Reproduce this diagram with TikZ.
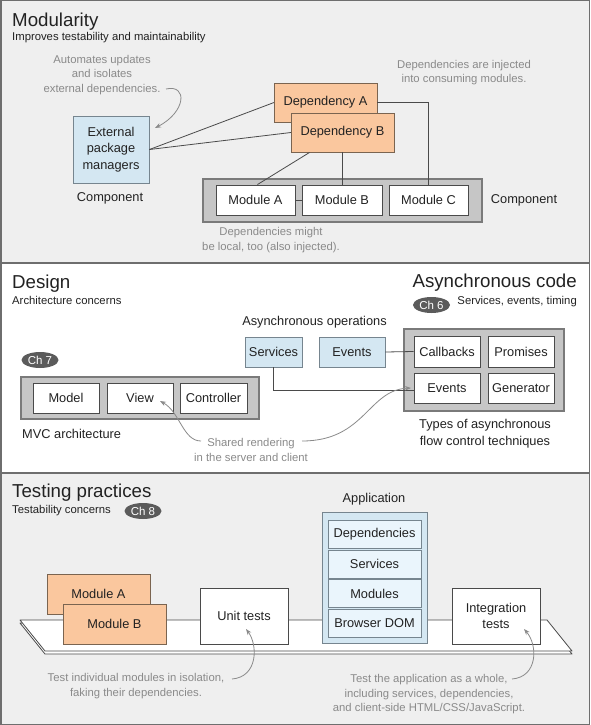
\documentclass[tikz,border=0pt]{standalone}
\usepackage{fontspec}
\setmainfont{Liberation Sans}
\usetikzlibrary{arrows.meta,shapes.geometric,calc}
\definecolor{panelgray}{HTML}{EFEFEF}
\definecolor{framegray}{HTML}{6E6E6E}
\definecolor{orangefill}{HTML}{FAC79E}
\definecolor{orangeline}{HTML}{7A6450}
\definecolor{bluefill}{HTML}{D4E7F2}
\definecolor{blueline}{HTML}{76858F}
\definecolor{paleblue}{HTML}{EAF5FC}
\definecolor{contfill}{HTML}{C6C6C6}
\definecolor{contline}{HTML}{7A7A7A}
\definecolor{boxline}{HTML}{4A4A4A}
\definecolor{anngray}{HTML}{8A8A8A}
\definecolor{chipgray}{HTML}{5B5B5B}
\definecolor{txt}{HTML}{222222}
\begin{document}
\begin{tikzpicture}[x=1pt,y=-1pt,
  basefont/.style={font=\fontsize{12.8}{16.5}\selectfont},
  wbox/.style={basefont, draw=boxline, fill=white, line width=0.9pt, inner sep=0pt, text=txt, align=center},
  obox/.style={wbox, fill=orangefill, draw=orangeline},
  bbox/.style={wbox, fill=bluefill, draw=blueline},
  pbox/.style={wbox, fill=paleblue, draw=blueline},
  cont/.style={draw=contline, fill=contfill, line width=1.1pt, inner sep=0pt},
  lbl/.style={basefont, text=txt, inner sep=0pt, align=center},
  ttl/.style={font=\fontsize{18.7}{22}\selectfont, text=txt, inner sep=0pt},
  sub/.style={font=\fontsize{11.3}{14}\selectfont, text=txt, inner sep=0pt},
  ann/.style={font=\fontsize{11.3}{14.5}\selectfont, text=anngray, inner sep=0pt, align=center},
  chip/.style={ellipse, fill=chipgray, text=white, font=\fontsize{11.5}{13}\selectfont, minimum width=37pt, minimum height=16pt, inner sep=0pt},
  conn/.style={draw=boxline, line width=0.8pt},
  annarrow/.style={draw=anngray, line width=0.8pt, -{Stealth[length=6pt,width=4.5pt]}},
  platform/.style={draw=boxline, fill=white, line width=0.8pt, line join=round}
]
\useasboundingbox (0,0) rectangle (590,725);
% panels
\fill[panelgray] (0,0) rectangle (590,263);
\fill[white] (0,263) rectangle (590,473);
\fill[panelgray] (0,473) rectangle (590,725);
\draw[framegray, line width=1.5pt] (0.75,0.75) rectangle (589.25,724.25);
\draw[framegray, line width=2pt] (0,263) -- (590,263);
\draw[framegray, line width=2pt] (0,473) -- (590,473);

% ===== Panel 1: Modularity =====
\node[ttl, anchor=base west] (t1) at (12,27) {Modularity};
\node[sub, anchor=base west] (s1) at (12,41) {Improves testability and maintainability};
\node[ann] (a1) at (102,75) {Automates updates\\and isolates\\external dependencies.};
\node[bbox, minimum width=76pt, minimum height=67pt] (ext) at (111,149.5) {External\\package\\managers};
\node[lbl] (c1) at (110,198) {Component};
\node[ann] (a2) at (464,72.5) {Dependencies are injected\\into consuming modules.};
\node[cont, minimum width=279pt, minimum height=43pt] (compbox) at (342.5,200.5) {};
\node[wbox, minimum width=79pt, minimum height=30pt] (modA) at (255.5,200) {Module A};
\node[wbox, minimum width=80pt, minimum height=30pt] (modB) at (342,200) {Module B};
\node[wbox, minimum width=79pt, minimum height=30pt] (modC) at (428.5,200) {Module C};
\node[lbl] (c2) at (524,200) {Component};
\node[ann] (a3) at (271,240) {Dependencies might\\be local, too (also injected).};
% connectors (behind dependency boxes)
\draw[conn] (ext.east) -- (274,102.5) coordinate (depAw);
\draw[conn] (ext.east) -- (291,132.5) coordinate (depBw);
\node[obox, minimum width=103pt, minimum height=39pt] (depA) at (325.5,102.5) {Dependency A};
\node[obox, minimum width=103pt, minimum height=39pt] (depB) at (342.5,132.5) {Dependency B};
\draw[conn] (depA.east) -| (modC.north);
\draw[conn] (depB.south) -- (depB.south |- modB.north);
\draw[conn] ([xshift=19pt]depB.south west) -- ([xshift=-38pt]modA.north east);
\draw[conn] (modA.east) -- (modB.west);
\coordinate (a1s) at (166,89);
\coordinate (a1e) at (155,128);
\draw[annarrow] (a1s) .. controls (188,84) and (186,112) .. (a1e);

% ===== Panel 2: Design / Asynchronous code =====
\node[ttl, anchor=base west] (t2) at (12,288) {Design};
\node[sub, anchor=base west] (s2) at (12,304) {Architecture concerns};
\node[ttl, anchor=base east] (t3) at (577,287) {Asynchronous code};
\node[sub, anchor=base east] (s3) at (577,304) {Services, events, timing};
\node[chip] (ch6) at (431.5,305) {Ch 6};
\node[lbl] (aop) at (314.5,322) {Asynchronous operations};
\node[bbox, minimum width=57pt, minimum height=30pt] (serv) at (273.5,352) {Services};
\node[bbox, minimum width=66pt, minimum height=30pt] (bev) at (352,352) {Events};
\node[cont, minimum width=160pt, minimum height=82pt] (abox) at (484,370) {};
\node[wbox, minimum width=66pt, minimum height=31pt] (cb) at (447,351.5) {Callbacks};
\node[wbox, minimum width=66pt, minimum height=31pt] (pr) at (521,351.5) {Promises};
\node[wbox, minimum width=66pt, minimum height=30pt] (aev) at (447,388) {Events};
\node[wbox, minimum width=66pt, minimum height=30pt] (gen) at (521,388) {Generator};
\node[lbl] (types) at (485,433.5) {Types of asynchronous\\flow control techniques};
\draw[conn] (bev.east) -- (cb.west);
\draw[conn] (serv.south) |- ([yshift=-2pt]aev.west);
\node[chip] (ch7) at (40,360) {Ch 7};
\node[cont, minimum width=238pt, minimum height=42pt] (mvc) at (140,398) {};
\node[wbox, minimum width=66pt, minimum height=30pt] (model) at (66,398) {Model};
\node[wbox, minimum width=66pt, minimum height=30pt] (view) at (140,398) {View};
\node[wbox, minimum width=67pt, minimum height=30pt] (ctrl) at (213.5,398) {Controller};
\node[lbl, anchor=west] (mvcl) at (22,434) {MVC architecture};
\node[ann] (a4) at (251,450) {Shared rendering\\in the server and client};
\coordinate (a4l) at (201,441);
\coordinate (a4r) at (302,441);
\draw[annarrow] (a4l) .. controls (183,441) and (180,412) .. (160,401);
\draw[annarrow] (a4r) .. controls (365,441) and (368,390) .. (411,388);

% ===== Panel 3: Testing practices =====
\node[ttl, anchor=base west] (t4) at (12,497) {Testing practices};
\node[sub, anchor=base west] (s4) at (12,513) {Testability concerns};
\node[chip] (ch8) at (143,511) {Ch 8};
\node[lbl] (appl) at (374,499) {Application};
\draw[platform] (20,623) -- (547,623) -- (572,654) -- (45,654) -- cycle;
\draw[platform] (20,620) -- (547,620) -- (572,651) -- (45,651) -- cycle;
\node[obox, minimum width=103pt, minimum height=40pt] (tmA) at (98.5,594) {Module A};
\node[obox, minimum width=103pt, minimum height=40pt] (tmB) at (114.5,624) {Module B};
\node[wbox, minimum width=88pt, minimum height=56pt] (unit) at (244,616) {Unit tests};
\node[bbox, minimum width=105pt, minimum height=131pt] (app) at (374.5,577.5) {};
\node[pbox, minimum width=93pt, minimum height=28pt] (adep) at (374.5,534.5) {Dependencies};
\node[pbox, minimum width=93pt, minimum height=28pt] (aserv) at (374.5,564) {Services};
\node[pbox, minimum width=93pt, minimum height=28pt] (amod) at (374.5,593.5) {Modules};
\node[pbox, minimum width=93pt, minimum height=28pt] (adom) at (374.5,623.5) {Browser DOM};
\node[wbox, minimum width=88pt, minimum height=56pt] (integ) at (496,616) {Integration\\tests};
\node[ann] (a5) at (136,686) {Test individual modules in isolation,\\faking their dependencies.};
\node[ann] (a6) at (429,694.5) {Test the application as a whole,\\including services, dependencies,\\and client-side HTML/CSS/JavaScript.};
\coordinate (a5s) at (232,679);
\coordinate (a6s) at (512,679);
\draw[annarrow] (a5s) .. controls (258,677) and (258,645) .. (246,629);
\draw[annarrow] (a6s) .. controls (538,677) and (538,645) .. (524,629);
\end{tikzpicture}
\end{document}
